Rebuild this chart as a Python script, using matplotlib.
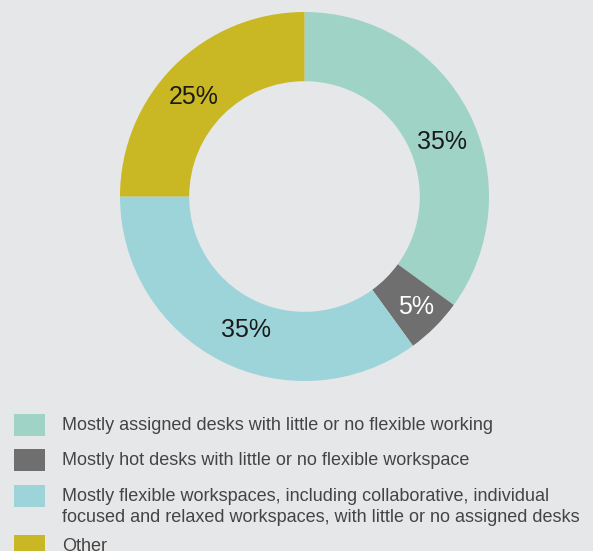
import numpy as np
import matplotlib.pyplot as plt
from matplotlib.patches import Rectangle

# data
labels = [
    "Mostly assigned desks with little or no flexible working",
    "Mostly hot desks with little or no flexible workspace",
    "Mostly flexible workspaces, including collaborative, individual\nfocused and relaxed workspaces, with little or no assigned desks",
    "Other",
]
shares = [35, 5, 35, 25]
colors = ["#9fd3c5", "#6f6f6f", "#9dd4da", "#c9b723"]
pct_colors = ["#1a1a1a", "white", "#1a1a1a", "#1a1a1a"]

# small nudges of the % labels (degrees, radius) to match the original placement
label_nudge = [(-5.2, 0.80), (0.3, 0.85), (3.3, 0.79), (3.0, 0.81)]

bg = "#e6e7e9"
W, H = 593, 551

fig = plt.figure(figsize=(W / 100, H / 100), dpi=100, facecolor=bg)

# donut: center (304.5, 196.5) px from top, radius 184.5
cx, cy, r = 304.5, 196.5, 184.5
ax = fig.add_axes([(cx - r) / W, (H - cy - r) / H, 2 * r / W, 2 * r / H])
ax.set_facecolor(bg)
wedges, _ = ax.pie(shares, colors=colors, startangle=90, counterclock=False,
                   radius=1, wedgeprops=dict(width=0.375, linewidth=0))
for w, s, c, (da, rr) in zip(wedges, shares, pct_colors, label_nudge):
    mid = np.deg2rad((w.theta1 + w.theta2) / 2 + da)
    ax.text(rr * np.cos(mid), rr * np.sin(mid), "%d%%" % s, color=c,
            ha="center", va="center", fontsize=18, family="Liberation Sans")
ax.set_xlim(-1, 1)
ax.set_ylim(-1, 1)
ax.set_aspect("equal")
ax.axis("off")

# legend drawn in pixel space
lax = fig.add_axes([0, 0, 1, 1], facecolor="none")
lax.set_xlim(0, W)
lax.set_ylim(H, 0)
lax.axis("off")
row_y = [425, 460, 496, 546]
for y, lab, c in zip(row_y, labels, colors):
    lax.add_patch(Rectangle((14, y - 11), 31, 22, color=c, lw=0))
    lax.text(62, y - 8, lab, fontsize=13, family="Liberation Sans",
             color="#444444", va="top", ha="left", linespacing=1.27)

fig.savefig("out.png", dpi=100, facecolor=bg)
